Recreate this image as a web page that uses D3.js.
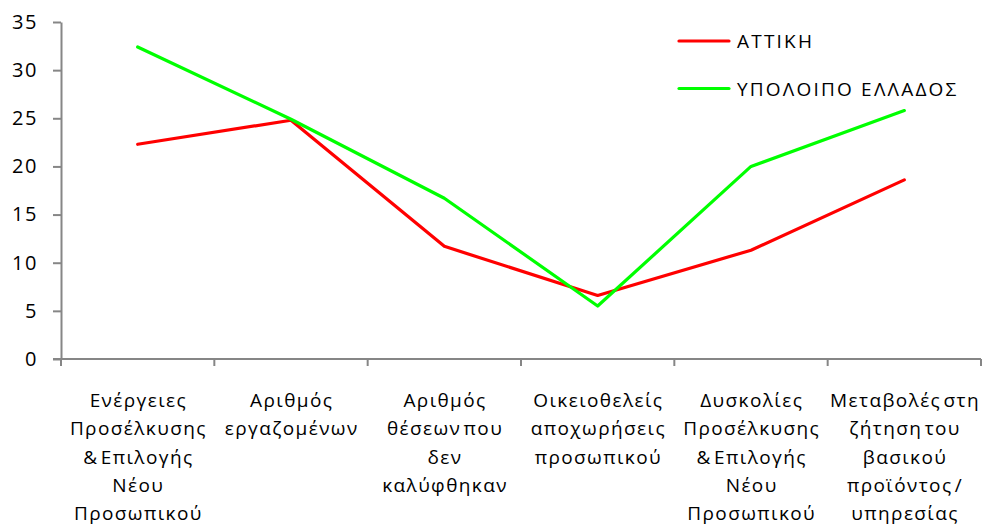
<!DOCTYPE html>
<html>
<head>
<meta charset="utf-8">
<script src="https://cdn.jsdelivr.net/npm/d3@7"></script>
<style>
  html, body { margin: 0; padding: 0; background: #fff; }
  svg { display: block; }
  text { font-family: "Open Sans", "DejaVu Sans", sans-serif; fill: #000; }
</style>
</head>
<body>
<svg id="chart" width="982" height="531"></svg>
<script>
// Categories (line breaks mark label wrapping)
const categories = [
  "Ενέργειες\nΠροσέλκυσης\n& Επιλογής\nΝέου\nΠροσωπικού",
  "Αριθμός\nεργαζομένων",
  "Αριθμός\nθέσεων που\nδεν\nκαλύφθηκαν",
  "Οικειοθελείς\nαποχωρήσεις\nπροσωπικού",
  "Δυσκολίες\nΠροσέλκυσης\n& Επιλογής\nΝέου\nΠροσωπικού",
  "Μεταβολές στη\nζήτηση του\nβασικού\nπροϊόντος /\nυπηρεσίας"
];
const seriesNames = ["ΑΤΤΙΚΗ", "ΥΠΟΛΟΙΠΟ ΕΛΛΑΔΟΣ"];
const attikiValues = [22.3, 24.8, 11.7, 6.6, 11.3, 18.6];
const restValues   = [32.4, 24.9, 16.7, 5.5, 20.0, 25.8];
const yTicks = [0, 5, 10, 15, 20, 25, 30, 35];
const seriesColors = ["#ff0000", "#00ff00"];

const svg = d3.select("#chart");
const plotLeft = 61, plotRight = 981, plotTop = 22, plotBottom = 359;

const x = d3.scaleBand().domain(d3.range(categories.length)).range([plotLeft, plotRight]).padding(0);
const y = d3.scaleLinear().domain([0, 35]).range([plotBottom, plotTop]);

const axisColor = "#868686";
const labelSpacing = 1.4;

// Y axis
const yAxis = svg.append("g")
  .attr("transform", `translate(${plotLeft},0)`)
  .call(d3.axisLeft(y).tickValues(yTicks).tickSize(8).tickPadding(15).tickSizeOuter(0));
yAxis.select(".domain").attr("stroke", axisColor).attr("stroke-width", 2);
yAxis.selectAll(".tick line").attr("stroke", axisColor).attr("stroke-width", 2);
yAxis.selectAll(".tick text")
  .attr("font-size", 20)
  .attr("font-family", "'Open Sans', sans-serif")
  .attr("letter-spacing", 1.6)
  .attr("fill", "#000");

// X axis: ticks at band boundaries
const boundaries = d3.range(categories.length + 1).map(i => plotLeft + i * x.bandwidth());
const xg = svg.append("g");
xg.append("line")
  .attr("x1", plotLeft - 8).attr("x2", plotRight)
  .attr("y1", plotBottom).attr("y2", plotBottom)
  .attr("stroke", axisColor).attr("stroke-width", 2);
xg.selectAll("line.xt").data(boundaries).join("line")
  .attr("class", "xt")
  .attr("x1", d => d).attr("x2", d => d)
  .attr("y1", plotBottom).attr("y2", plotBottom + 7)
  .attr("stroke", axisColor).attr("stroke-width", 2);

// Category labels
const lineGap = 28.3;
xg.selectAll("text.cat").data(categories).join("text")
  .attr("class", "cat")
  .attr("text-anchor", "middle")
  .attr("font-size", 19)
  .attr("letter-spacing", labelSpacing)
  .attr("word-spacing", -4)
  .each(function(d, i) {
    const t = d3.select(this);
    d.split("\n").forEach((ln, j) => {
      t.append("tspan")
        .attr("x", x(i) + x.bandwidth() / 2 + labelSpacing / 2)
        .attr("y", 407 + j * lineGap)
        .text(ln);
    });
  });

// Lines
const line = d3.line()
  .x((d, i) => x(i) + x.bandwidth() / 2)
  .y(d => y(d));

[attikiValues, restValues].forEach((vals, k) => {
  svg.append("path")
    .datum(vals)
    .attr("d", line)
    .attr("fill", "none")
    .attr("stroke", seriesColors[k])
    .attr("stroke-width", 3.2)
    .attr("stroke-linejoin", "round")
    .attr("stroke-linecap", "round");
});

// Legend
const legend = svg.append("g");
seriesNames.forEach((name, k) => {
  const ly = 41 + k * 47.5;
  legend.append("line")
    .attr("x1", 679).attr("x2", 729)
    .attr("y1", ly).attr("y2", ly)
    .attr("stroke", seriesColors[k])
    .attr("stroke-width", 3.2)
    .attr("stroke-linecap", "round");
  legend.append("text")
    .attr("x", 737).attr("y", ly + 7)
    .attr("font-size", 19)
    .attr("letter-spacing", 2.2)
    .text(name);
});
</script>
</body>
</html>
